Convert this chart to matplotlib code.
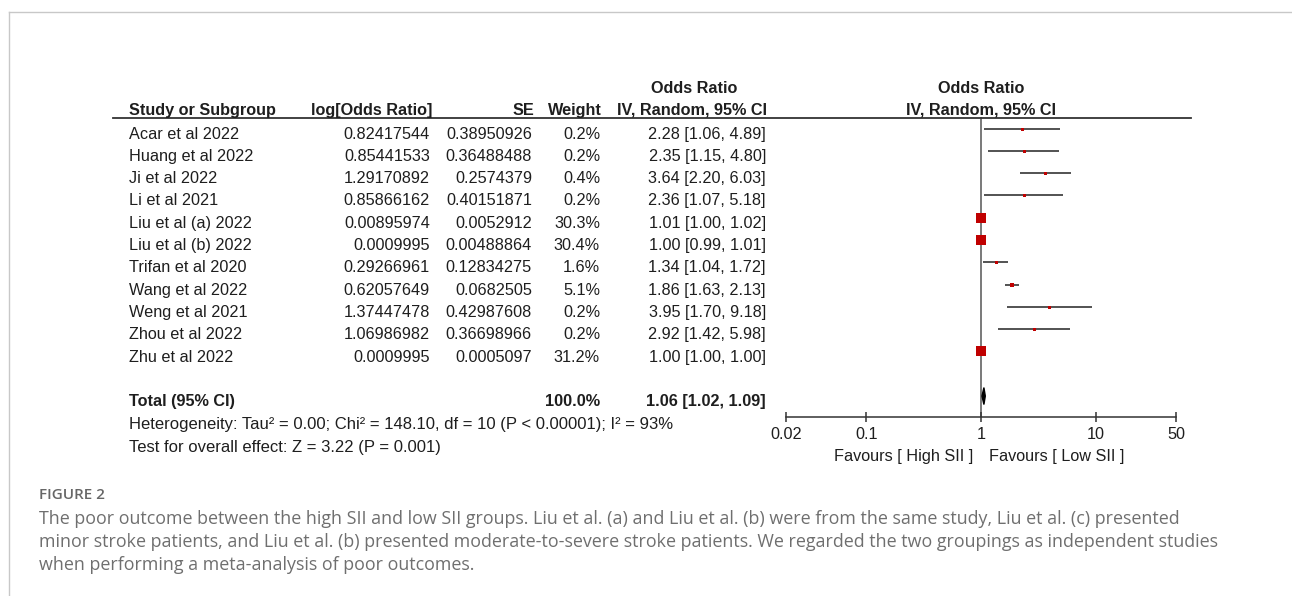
import matplotlib
matplotlib.use('Agg')
import matplotlib.pyplot as plt
import matplotlib.transforms as mtransforms
from matplotlib.lines import Line2D
from matplotlib.patches import Polygon
import numpy as np

studies = ['Acar et al 2022', 'Huang et al 2022', 'Ji et al 2022', 'Li et al 2021',
           'Liu et al (a) 2022', 'Liu et al (b) 2022', 'Trifan et al 2020', 'Wang et al 2022',
           'Weng et al 2021', 'Zhou et al 2022', 'Zhu et al 2022']
log_or = [0.82417544, 0.85441533, 1.29170892, 0.85866162, 0.00895974, 0.0009995,
          0.29266961, 0.62057649, 1.37447478, 1.06986982, 0.0009995]
se = [0.38950926, 0.36488488, 0.2574379, 0.40151871, 0.0052912, 0.00488864,
      0.12834275, 0.0682505, 0.42987608, 0.36698966, 0.0005097]
weight = [0.2, 0.2, 0.4, 0.2, 30.3, 30.4, 1.6, 5.1, 0.2, 0.2, 31.2]
odds = [2.28, 2.35, 3.64, 2.36, 1.01, 1.00, 1.34, 1.86, 3.95, 2.92, 1.00]
ci_lo = [1.06, 1.15, 2.20, 1.07, 1.00, 0.99, 1.04, 1.63, 1.70, 1.42, 1.00]
ci_hi = [4.89, 4.80, 6.03, 5.18, 1.02, 1.01, 1.72, 2.13, 9.18, 5.98, 1.00]
total_or, total_lo, total_hi = 1.06, 1.02, 1.09
total_weight = 100.0
xticks = [0.02, 0.1, 1, 10, 50]
xtick_labels = ['0.02', '0.1', '1', '10', '50']

W, H = 1292, 596
FS = 11.7
TXT = '#1e1e1e'
plt.rcParams['font.family'] = ['Liberation Sans', 'DejaVu Sans']

fig = plt.figure(figsize=(W / 100, H / 100), dpi=100)

def fx(x):
    return x / W

def fy(y):
    return 1 - y / H

# forest panel, rows in data units (row 0 = first study)
ax = fig.add_axes([fx(786), fy(417), fx(1176 - 786), (417 - 117) / H])
ax.set_xscale('log')
ax.set_xlim(0.02, 50)
ax.set_ylim(12.94, -0.52)
for s in ['top', 'left', 'right']:
    ax.spines[s].set_visible(False)
ax.spines['bottom'].set_color('#333333')
ax.spines['bottom'].set_linewidth(1.1)
ax.set_yticks([])
ax.set_xticks(xticks)
ax.set_xticklabels(xtick_labels)
ax.minorticks_off()
ax.tick_params(axis='x', direction='inout', length=7, width=1.1, color='#333333',
               pad=4, labelsize=FS, labelcolor=TXT)
ax.axvline(1, color='#555555', lw=1.1, zorder=1)

rows = np.arange(len(studies))
for i in rows:
    ax.plot([ci_lo[i], ci_hi[i]], [i, i], color='#444444', lw=1.3, solid_capstyle='butt', zorder=2)
    side = max(9.5 * np.sqrt(weight[i] / 31.2), 3.0) * 0.72
    ax.plot(odds[i], i, marker='s', ms=side, color='#c00000', mew=0, zorder=3)

trow = 12
ax.add_patch(Polygon([[total_lo, trow], [total_or, trow - 0.38], [total_hi, trow], [total_or, trow + 0.38]],
                     closed=True, color='black', zorder=3))

ax.annotate('Favours [ High SII ]', xy=(1, 0), xycoords=('data', 'axes fraction'),
            xytext=(-8, -39), textcoords='offset pixels', ha='right', va='center',
            fontsize=FS, color=TXT)
ax.annotate('Favours [ Low SII ]', xy=(1, 0), xycoords=('data', 'axes fraction'),
            xytext=(8, -39), textcoords='offset pixels', ha='left', va='center',
            fontsize=FS, color=TXT)

# table text: x in figure fraction, y in forest rows
tr = mtransforms.blended_transform_factory(fig.transFigure, ax.transData)
off = 0.45

def put(x, r, s, ha='left', bold=False, size=FS):
    fig.text(fx(x), r + off, s, transform=tr, ha=ha, va='baseline', fontsize=size,
             color=TXT, fontweight='bold' if bold else 'normal')

# headers
put(694, -2.06, 'Odds Ratio', ha='center', bold=True)
put(981, -2.06, 'Odds Ratio', ha='center', bold=True)
put(129, -1.08, 'Study or Subgroup', bold=True)
put(432, -1.08, 'log[Odds Ratio]', ha='right', bold=True)
put(534, -1.08, 'SE', ha='right', bold=True)
put(602, -1.08, 'Weight', ha='right', bold=True)
put(692, -1.08, 'IV, Random, 95% CI', ha='center', bold=True)
put(981, -1.08, 'IV, Random, 95% CI', ha='center', bold=True)
fig.add_artist(Line2D([fx(113), fx(1191)], [fy(117.5), fy(117.5)], color='#333333', lw=1.3))

for i in rows:
    put(129, i, studies[i])
    put(430, i, str(log_or[i]), ha='right')
    put(532, i, str(se[i]), ha='right')
    put(600, i, f'{weight[i]:.1f}%', ha='right')
    put(766, i, f'{odds[i]:.2f} [{ci_lo[i]:.2f}, {ci_hi[i]:.2f}]', ha='right')

put(129, trow, 'Total (95% CI)', bold=True)
put(600, trow, f'{total_weight:.1f}%', ha='right', bold=True)
put(766, trow, f'{total_or:.2f} [{total_lo:.2f}, {total_hi:.2f}]', ha='right', bold=True)
put(129, 13.05, 'Heterogeneity: Tau² = 0.00; Chi² = 148.10, df = 10 (P < 0.00001); I² = 93%', size=12)
put(129, 14.05, 'Test for overall effect: Z = 3.22 (P = 0.001)', size=12)

# frame lines of the figure box
fig.add_artist(Line2D([fx(9), 1], [fy(12), fy(12)], color='#c8c8c8', lw=1))
fig.add_artist(Line2D([fx(9), fx(9)], [fy(12), 0], color='#c8c8c8', lw=1))

# caption
fig.text(fx(39), fy(495), 'FIGURE 2', family='Open Sans', fontweight='semibold',
         fontsize=11, color='#666666', va='center')
caption = ['The poor outcome between the high SII and low SII groups. Liu et al. (a) and Liu et al. (b) were from the same study, Liu et al. (c) presented',
           'minor stroke patients, and Liu et al. (b) presented moderate-to-severe stroke patients. We regarded the two groupings as independent studies',
           'when performing a meta-analysis of poor outcomes.']
for k, line in enumerate(caption):
    fig.text(fx(39), fy(519 + 23 * k), line, family='Open Sans', fontsize=12.9,
             color='#6f6f6f', va='center')

fig.savefig('out.png', dpi=100)
